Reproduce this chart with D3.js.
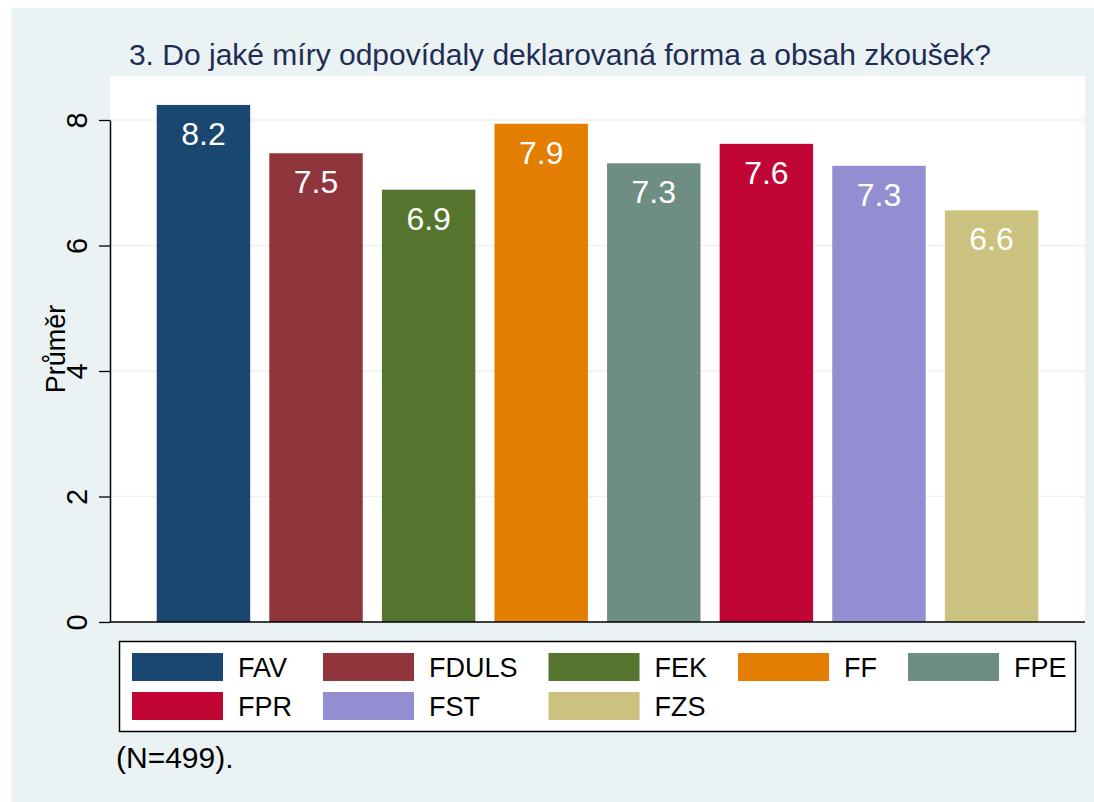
<!DOCTYPE html>
<html>
<head>
<meta charset="utf-8">
<script src="https://cdn.jsdelivr.net/npm/d3@7"></script>
<style>
  body { margin: 0; background: #fff; }
  text { font-family: "Liberation Sans", Arial, sans-serif; }
</style>
</head>
<body>
<div id="chart"></div>
<script>
// chart data
let faculties = ["FAV", "FDULS", "FEK", "FF", "FPE", "FPR", "FST", "FZS"];
let means = [8.24, 7.47, 6.89, 7.94, 7.31, 7.62, 7.27, 6.56];
let barColors = ["#1A476F", "#90353B", "#55752F", "#E37E00", "#6E8E84", "#C10534", "#938DD2", "#CAC27E"];
let yTicks = [0, 2, 4, 6, 8];
let titleText = "3. Do jaké míry odpovídaly deklarovaná forma a obsah zkoušek?";
let yTitle = "Průměr";
let noteText = "(N=499).";

// sizes
let svgWidth = 1094;
let svgHeight = 802;
let plot = { left: 110, right: 1085, top: 76, bottom: 622 };

let svg = d3.select("#chart")
    .append("svg")
    .attr("width", svgWidth)
    .attr("height", svgHeight);

// graph region
svg.append("rect")
    .attr("x", 11).attr("y", 8)
    .attr("width", svgWidth - 11).attr("height", svgHeight - 8)
    .attr("fill", "#EAF2F3");

// plot region
svg.append("rect")
    .attr("x", plot.left).attr("y", plot.top)
    .attr("width", plot.right - plot.left).attr("height", plot.bottom - plot.top)
    .attr("fill", "#fff");

let x = d3.scaleBand()
    .domain(faculties)
    .range([plot.left, plot.right])
    .paddingInner(0.17)
    .paddingOuter(0.415);

let y = d3.scaleLinear()
    .domain([0, 8])
    .range([plot.bottom, plot.bottom - 8 * 62.75]);

// grid lines
svg.append("g")
    .selectAll("line")
    .data(yTicks.filter(d => d > 0))
    .enter()
    .append("line")
    .attr("x1", plot.left).attr("x2", plot.right)
    .attr("y1", d => y(d)).attr("y2", d => y(d))
    .attr("stroke", "#EAF2F3")
    .attr("stroke-width", 1.5);

// bars
svg.append("g")
    .selectAll("rect")
    .data(faculties)
    .enter()
    .append("rect")
    .attr("x", d => x(d))
    .attr("y", (d, i) => y(means[i]))
    .attr("width", x.bandwidth())
    .attr("height", (d, i) => y(0) - y(means[i]))
    .attr("fill", (d, i) => barColors[i]);

// value labels inside the bars
svg.append("g")
    .selectAll("text")
    .data(faculties)
    .enter()
    .append("text")
    .attr("x", d => x(d) + x.bandwidth() / 2)
    .attr("y", (d, i) => y(means[i]) + 40)
    .attr("text-anchor", "middle")
    .attr("fill", "#fff")
    .style("font-size", "32px")
    .text((d, i) => means[i].toFixed(1));

// y axis, labels rotated like Stata
let leftAxis = d3.axisLeft(y).tickValues(yTicks).tickSize(11).tickSizeOuter(0).tickPadding(0);
let yAxis = svg.append("g")
    .attr("transform", `translate(${plot.left},0)`)
    .call(leftAxis);
yAxis.select(".domain").attr("stroke", "#000").attr("stroke-width", 1.5);
yAxis.selectAll(".tick line").attr("stroke", "#000").attr("stroke-width", 1.3);
yAxis.selectAll(".tick text")
    .attr("x", 0).attr("dy", 0)
    .attr("transform", "translate(-23,0) rotate(-90)")
    .attr("text-anchor", "middle")
    .attr("fill", "#000")
    .style("font-size", "29px")
    .style("font-family", "'Liberation Sans', Arial, sans-serif");

// bottom axis line
svg.append("line")
    .attr("x1", plot.left).attr("x2", plot.right)
    .attr("y1", plot.bottom).attr("y2", plot.bottom)
    .attr("stroke", "#000").attr("stroke-width", 1.5);

// y title
svg.append("text")
    .attr("transform", `translate(65,${(plot.top + plot.bottom) / 2}) rotate(-90)`)
    .attr("text-anchor", "middle")
    .attr("fill", "#000")
    .style("font-size", "27px")
    .text(yTitle);

// title
svg.append("text")
    .attr("x", 560).attr("y", 65)
    .attr("text-anchor", "middle")
    .attr("fill", "#1E2D53")
    .style("font-size", "30px")
    .text(titleText);

// legend
svg.append("rect")
    .attr("x", 119.5).attr("y", 641.5)
    .attr("width", 956).attr("height", 90)
    .attr("fill", "#fff")
    .attr("stroke", "#000").attr("stroke-width", 1.5);

let legendG = svg.append("g");
let nCols = 5;
let swatchW = 91, swatchH = 28, textGap = 15, colGap = 31;
let rowY = [653, 692];

// measure labels to get column widths
let labelWidths = faculties.map(f => {
    let t = legendG.append("text").style("font-size", "27px").text(f);
    let w = t.node().getComputedTextLength();
    t.remove();
    return w;
});
let colX = [132];
for (let c = 1; c < nCols; c++) {
    let maxW = d3.max(faculties.map((f, i) => i % nCols === c - 1 ? labelWidths[i] : 0));
    colX.push(colX[c - 1] + swatchW + textGap + maxW + colGap);
}

faculties.forEach((f, i) => {
    let c = i % nCols, r = Math.floor(i / nCols);
    legendG.append("rect")
        .attr("x", colX[c]).attr("y", rowY[r])
        .attr("width", swatchW).attr("height", swatchH)
        .attr("fill", barColors[i]);
    legendG.append("text")
        .attr("x", colX[c] + swatchW + textGap)
        .attr("y", rowY[r] + 24)
        .attr("fill", "#000")
        .style("font-size", "27px")
        .text(f);
});

// note
svg.append("text")
    .attr("x", 116).attr("y", 768)
    .attr("fill", "#000")
    .style("font-size", "30px")
    .text(noteText);
</script>
</body>
</html>
